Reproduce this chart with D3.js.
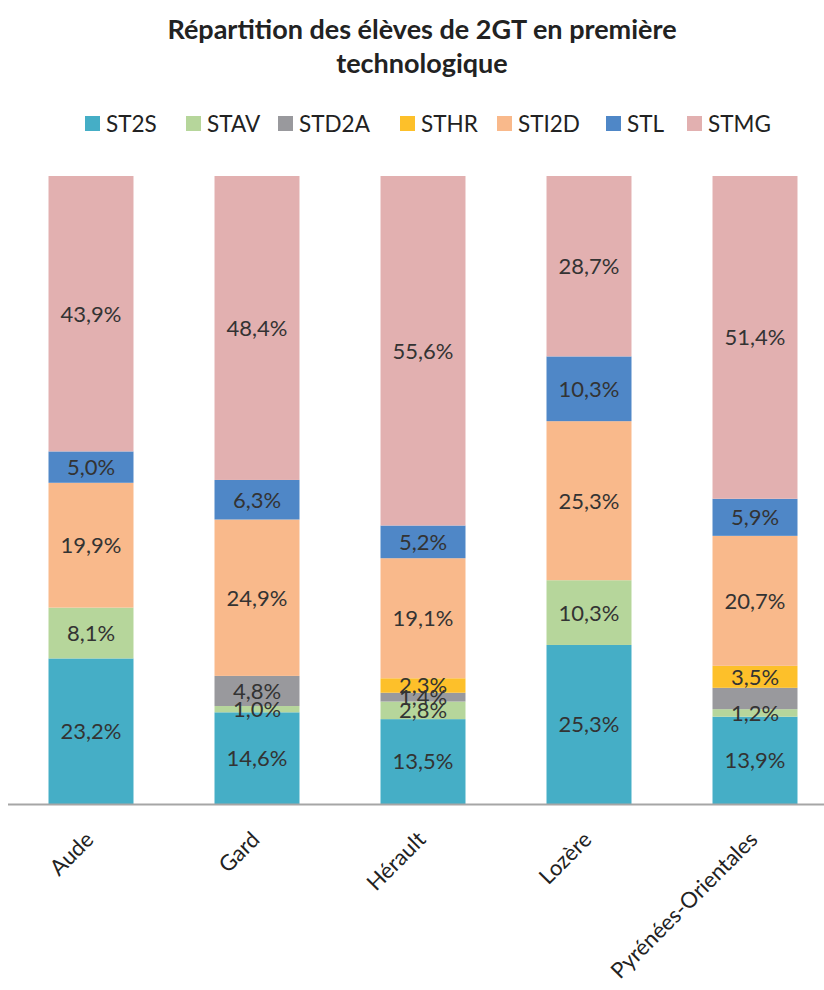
<!DOCTYPE html>
<html>
<head>
<meta charset="utf-8">
<script src="https://cdn.jsdelivr.net/npm/d3@7"></script>
<style>
  body { margin: 0; background: #fff; }
  svg { font-family: Lato, "Open Sans", sans-serif; }
</style>
</head>
<body>
<svg id="chart" width="824" height="990"></svg>
<script>
const departements = ['Aude', 'Gard', 'Hérault', 'Lozère', 'Pyrénées-Orientales']
const series = ['ST2S', 'STAV', 'STD2A', 'STHR', 'STI2D', 'STL', 'STMG']
const colors = ['#45aec6', '#b6d69b', '#99999d', '#fdc02a', '#f9b98b', '#4f87c7', '#e2b0b0']

// percentages per serie, in departement order
const st2s  = [23.2, 14.6, 13.5, 25.3, 13.9]
const stav  = [8.1, 1.0, 2.8, 10.3, 1.2]
const std2a = [0, 4.8, 1.4, 0, 3.4]
const sthr  = [0, 0, 2.3, 0, 3.5]
const sti2d = [19.9, 24.9, 19.1, 25.3, 20.7]
const stl   = [5.0, 6.3, 5.2, 10.3, 5.9]
const stmg  = [43.9, 48.4, 55.6, 28.7, 51.4]
// label removed in the original
const hiddenLabels = [['Pyrénées-Orientales', 'STD2A']]

const seriesValues = [st2s, stav, std2a, sthr, sti2d, stl, stmg]
const rows = departements.map((dep, i) => {
  const r = { dep }
  series.forEach((s, j) => { r[s] = seriesValues[j][i] })
  return r
})

const svg = d3.select('#chart')
const plotTop = 176, plotBottom = 804

const x = d3.scaleBand().domain(departements).range([8, 838]).paddingInner(0.488).paddingOuter(0.244)
const y = d3.scaleLinear().domain([0, 1]).range([plotBottom, plotTop])
const color = d3.scaleOrdinal().domain(series).range(colors)

const stacked = d3.stack().keys(series).offset(d3.stackOffsetExpand)(rows)

// title
svg.append('text')
  .attr('x', 422).attr('y', 39)
  .attr('text-anchor', 'middle')
  .attr('font-size', 27).attr('font-weight', 'bold').attr('fill', '#222')
  .selectAll('tspan')
  .data(['Répartition des élèves de 2GT en première', 'technologique'])
  .join('tspan')
  .attr('x', 422)
  .attr('dy', (d, i) => i ? 34 : 0)
  .text(d => d)

// legend
const legendX = [85, 186, 278, 400, 497, 606, 687]
const lg = svg.append('g')
  .selectAll('g')
  .data(series)
  .join('g')
  .attr('transform', (d, i) => `translate(${legendX[i]},116)`)
lg.append('rect').attr('width', 15).attr('height', 15).attr('fill', d => color(d))
lg.append('text')
  .attr('x', 21).attr('y', 8).attr('dy', '0.36em')
  .attr('font-size', 22.5).attr('fill', '#222')
  .text(d => d)

// bars
const layers = svg.append('g')
  .selectAll('g')
  .data(stacked)
  .join('g')
  .attr('fill', d => color(d.key))

layers.selectAll('rect')
  .data(d => d.map(p => Object.assign(p, { key: d.key })))
  .join('rect')
  .attr('x', d => x(d.data.dep))
  .attr('width', x.bandwidth())
  .attr('y', d => y(d[1]))
  .attr('height', d => y(d[0]) - y(d[1]))

// data labels
const fmt = v => v.toFixed(1).replace('.', ',') + '%'
const isHidden = d => hiddenLabels.some(h => h[0] === d.data.dep && h[1] === d.key)
svg.append('g')
  .selectAll('g')
  .data(stacked)
  .join('g')
  .selectAll('text')
  .data(d => d.filter(p => p.data[d.key] > 0 && !isHidden(p)))
  .join('text')
  .attr('x', d => x(d.data.dep) + x.bandwidth() / 2)
  .attr('y', d => (y(d[0]) + y(d[1])) / 2)
  .attr('dy', '0.36em')
  .attr('text-anchor', 'middle')
  .attr('font-size', 22)
  .attr('fill', '#333')
  .text(d => fmt(d.data[d.key]))

// axis
svg.append('line')
  .attr('x1', 8).attr('x2', 824)
  .attr('y1', plotBottom + 0.5).attr('y2', plotBottom + 0.5)
  .attr('stroke', '#a6a6a6').attr('stroke-width', 2)

svg.append('g')
  .selectAll('text')
  .data(departements)
  .join('text')
  .attr('text-anchor', 'end')
  .attr('font-size', 22)
  .attr('fill', '#222')
  .attr('transform', d => `translate(${x(d) + x.bandwidth() / 2 + 4},841) rotate(-45)`)
  .text(d => d)
</script>
</body>
</html>
